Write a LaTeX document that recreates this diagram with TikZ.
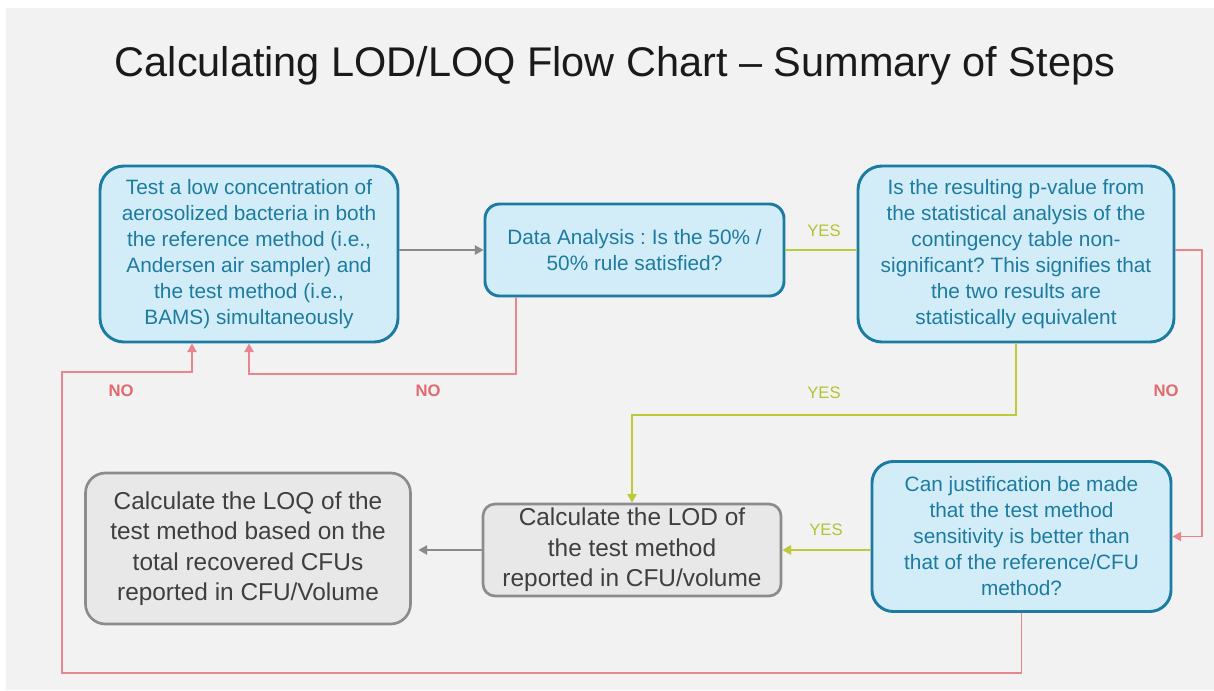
\documentclass[tikz,border=0pt]{standalone}
\usepackage{fontspec}
\setmainfont{Liberation Sans}
\usetikzlibrary{arrows.meta,calc}
\frenchspacing
\definecolor{bgc}{HTML}{F2F2F2}
\definecolor{bluefill}{HTML}{D2EDF8}
\definecolor{blueline}{HTML}{1B7BA3}
\definecolor{bluetext}{HTML}{1E7BA0}
\definecolor{greyfill}{HTML}{E8E8E8}
\definecolor{greyline}{HTML}{8C8C8C}
\definecolor{greytext}{HTML}{3F3F3F}
\definecolor{redline}{HTML}{E8868E}
\definecolor{redtext}{HTML}{E06A6F}
\definecolor{greenline}{HTML}{BDCA3A}
\definecolor{greentext}{HTML}{B5C234}
\definecolor{arrowgrey}{HTML}{8A8A8A}
\definecolor{titlec}{HTML}{1A1A1A}
\tikzset{
  bluebox/.style={draw=blueline, fill=bluefill, line width=2.2pt, rounded corners=18pt,
    text=bluetext, align=center, inner sep=0pt,
    font=\fontsize{15.6pt}{19.5pt}\selectfont},
  greybox/.style={draw=greyline, fill=greyfill, line width=2pt, rounded corners=16pt,
    text=greytext, align=center, inner sep=0pt,
    font=\fontsize{18.3pt}{22.9pt}\selectfont},
  tip/.style={-{Triangle[length=6.5pt,width=7pt]}},
  greyconn/.style={draw=arrowgrey, line width=1.2pt},
  redconn/.style={draw=redline, line width=1.2pt},
  greenconn/.style={draw=greenline, line width=1.3pt},
  yeslab/.style={text=greentext, font=\fontsize{12.5pt}{14pt}\selectfont, inner sep=0pt},
  nolab/.style={text=redtext, font=\bfseries\fontsize{12.5pt}{14pt}\selectfont, inner sep=0pt},
}
\begin{document}
\begin{tikzpicture}[x=0.75pt,y=-0.75pt]
\useasboundingbox (0,0) rectangle (1214,690);
\fill[white] (0,0) rectangle (1214,690);
\fill[bgc] (6,8) rectangle (1214,690);
\node[text=titlec, font=\fontsize{31.1pt}{36pt}\selectfont, inner sep=0pt] (title) at (615,66) {Calculating LOD/LOQ Flow Chart – Summary of Steps};

\node[bluebox, minimum width=223.5pt, minimum height=132pt] (A) at (249,254)
  {Test a low concentration of\\aerosolized bacteria in both\\the reference method (i.e.,\\Andersen air sampler) and\\the test method (i.e.,\\BAMS) simultaneously};
\node[bluebox, rounded corners=11pt, minimum width=224.25pt, minimum height=69pt] (B) at (634.5,250)
  {Data Analysis : Is the 50\% /\\50\% rule satisfied?};
\node[bluebox, minimum width=237pt, minimum height=132pt] (C) at (1016,254)
  {Is the resulting p-value from\\the statistical analysis of the\\contingency table non-\\significant? This signifies that\\the two results are\\statistically equivalent};
\node[bluebox, rounded corners=16pt, minimum width=224.25pt, minimum height=112.5pt] (D) at (1021.5,536.5)
  {Can justification be made\\that the test method\\sensitivity is better than\\that of the reference/CFU\\method?};
\node[greybox, rounded corners=9pt, minimum width=223.5pt, minimum height=69pt] (E) at (632,550)
  {Calculate the LOD of\\the test method\\reported in CFU/volume};
\node[greybox, rounded corners=15pt, minimum width=243.75pt, minimum height=113.25pt] (F) at (248,548.5)
  {Calculate the LOQ of the\\test method based on the\\total recovered CFUs\\reported in CFU/Volume};

\coordinate (n1) at (516,374);
\coordinate (y1) at (633,415);
\coordinate (r1) at (1202,400);
\coordinate (c1) at (62,673);
\coordinate (c2) at (62,372);
\coordinate (c3) at (192,372);

\draw[greyconn, tip] (A.east |- B.west) -- (B.west);
\draw[greenconn] (B.east) -- (C.west |- B.east);
\draw[redconn, tip] (n1 |- B.south) -- (n1) -| (A.south);
\draw[greenconn, tip] (C.south) -- (C.south |- y1) -| (E.north);
\draw[redconn, tip] (C.east |- B.east) -| (r1) |- (D.east);
\draw[greenconn, tip] (D.west |- E.east) -- (E.east);
\draw[greyconn, tip, shorten >=5pt] (E.west) -- (F.east |- E.west);
\draw[redconn, tip] (D.south) |- (c1) -- (c2) -| (A.south -| c3);

\node[yeslab] (y1l) at (824,231) {YES};
\node[nolab] (n1l) at (428,391) {NO};
\node[yeslab] (y2l) at (824,393) {YES};
\node[nolab] (n2l) at (1166,391) {NO};
\node[yeslab] (y3l) at (826,530) {YES};
\node[nolab] (n3l) at (121,391) {NO};
\end{tikzpicture}
\end{document}
